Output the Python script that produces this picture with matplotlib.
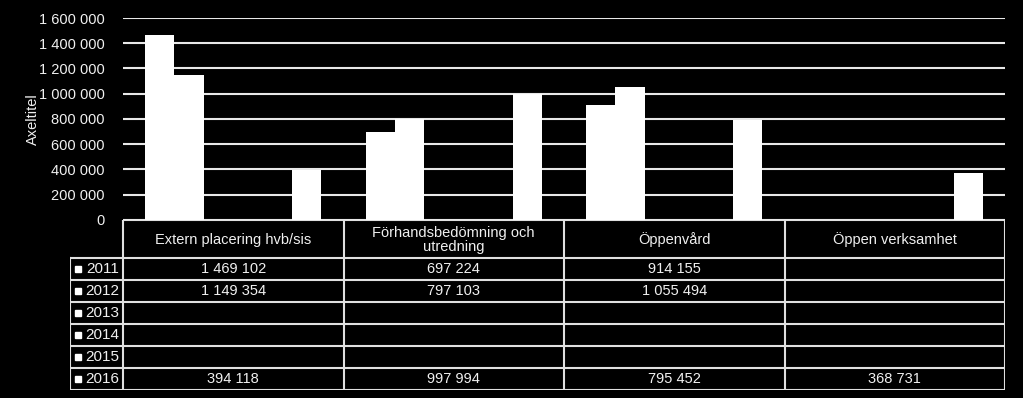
import matplotlib.pyplot as plt

plt.rcParams['font.family'] = ['Liberation Sans', 'DejaVu Sans']

# Data
kategorier = ['Extern placering hvb/sis', 'Förhandsbedömning och\nutredning',
              'Öppenvård', 'Öppen verksamhet']
ar = ['2011', '2012', '2013', '2014', '2015', '2016']
v2011 = [1469102, 697224, 914155, None]
v2012 = [1149354, 797103, 1055494, None]
v2013 = [None, None, None, None]
v2014 = [None, None, None, None]
v2015 = [None, None, None, None]
v2016 = [394118, 997994, 795452, 368731]
serier = [v2011, v2012, v2013, v2014, v2015, v2016]

yticks = [0, 200000, 400000, 600000, 800000, 1000000, 1200000, 1400000, 1600000]

W, H = 1023, 398
fig = plt.figure(figsize=(W / 100, H / 100), dpi=100, facecolor='black')
txt = '#f0f0f0'
fs = 10.5

def fmt(v):
    return f'{v:,}'.replace(',', ' ')

# Bar chart area (pixel layout)
x0, x1, ytop, y0 = 123, 1005, 18, 220
ax = fig.add_axes([x0 / W, 1 - y0 / H, (x1 - x0) / W, (y0 - ytop) / H])
ax.set_facecolor('black')
bw = 1 / 7.5
for i, s in enumerate(serier):
    for j, v in enumerate(s):
        if v is not None:
            ax.bar(j + (i - 2.5) * bw, v, width=bw, color='white', zorder=3)
ax.set_xlim(-0.5, len(kategorier) - 0.5)
ax.set_ylim(0, 1600000)
ax.set_yticks(yticks)
ax.set_yticklabels([fmt(t) for t in yticks], color=txt, fontsize=fs)
ax.tick_params(axis='y', length=0, pad=13)
ax.set_xticks([])
ax.grid(axis='y', color='#e8e8e8', linewidth=1.5, zorder=1)
for sp in ax.spines.values():
    sp.set_visible(False)
ax.set_ylabel('Axeltitel', color=txt, fontsize=fs)
ax.yaxis.set_label_coords(-(x0 - 40) / (x1 - x0), 0.5)

# Data table below (pixel layout)
tx0, tbot = 70, 390
tab = fig.add_axes([tx0 / W, 1 - tbot / H, (x1 - tx0) / W, (tbot - y0) / H])
tab.set_xlim(tx0, x1)
tab.set_ylim(tbot, y0)
tab.axis('off')
lc = '#e0e0e0'
lw = 1.5
hdr_b = 258
rh = 22
colw = (x1 - x0) / len(kategorier)

# horizontal lines
tab.plot([x0, x1], [y0, y0], color=lc, lw=lw)
for k in range(len(ar) + 1):
    yy = hdr_b + k * rh
    tab.plot([tx0, x1], [yy, yy], color=lc, lw=lw)
# vertical lines
tab.plot([tx0, tx0], [hdr_b, tbot], color=lc, lw=lw)
for c in range(len(kategorier) + 1):
    xx = x0 + c * colw
    tab.plot([xx, xx], [y0, tbot], color=lc, lw=lw)

for c, kat in enumerate(kategorier):
    tab.text(x0 + (c + 0.5) * colw, (y0 + hdr_b) / 2 + 1, kat, ha='center', va='center',
             color=txt, fontsize=fs, linespacing=1.05)

for i, (a, s) in enumerate(zip(ar, serier)):
    yc = hdr_b + (i + 0.5) * rh
    tab.plot([78], [yc], marker='s', markersize=5, color='white', lw=0)
    tab.text(102.5, yc, a, ha='center', va='center', color=txt, fontsize=11)
    for c, v in enumerate(s):
        if v is not None:
            tab.text(x0 + (c + 0.5) * colw, yc, fmt(v), ha='center', va='center',
                     color=txt, fontsize=fs)

fig.savefig('out.png', dpi=100, facecolor='black')
